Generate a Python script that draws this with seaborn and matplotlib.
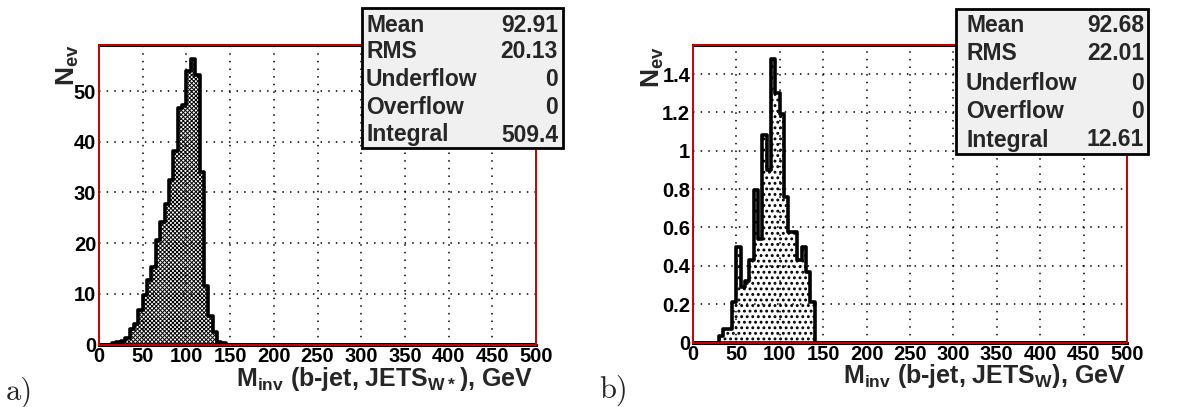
import matplotlib
matplotlib.use("Agg")
import matplotlib.pyplot as plt
from matplotlib.patches import Rectangle
from matplotlib.ticker import MultipleLocator, FuncFormatter
import seaborn as sns

# %%
# histogram contents, 5 GeV bins (bin centres in GeV)
mass_a = [17.5, 22.5, 27.5, 32.5, 37.5, 42.5, 47.5, 52.5, 57.5, 62.5, 67.5, 72.5, 77.5,
          82.5, 87.5, 92.5, 97.5, 102.5, 107.5, 112.5, 117.5, 122.5, 127.5, 132.5, 137.5, 142.5]
counts_a = [0.2, 0.4, 0.6, 1.2, 3.0, 4.1, 6.9, 9.7, 12.7, 15.3, 20.6, 24.1, 27.7,
            32.4, 38.2, 46.7, 47.2, 53.9, 56.3, 53.2, 34.0, 11.5, 5.6, 2.5, 0.5, 0.2]

mass_b = [32.5, 37.5, 42.5, 47.5, 52.5, 57.5, 62.5, 67.5, 72.5, 77.5, 82.5,
          87.5, 92.5, 97.5, 102.5, 107.5, 112.5, 117.5, 122.5, 127.5, 132.5, 137.5]
counts_b = [0.033, 0.07, 0.07, 0.21, 0.50, 0.29, 0.32, 0.43, 0.795, 0.54, 1.08,
            0.90, 1.48, 1.30, 1.19, 0.757, 0.577, 0.577, 0.43, 0.50, 0.37, 0.21]

bin_edges = list(range(0, 505, 5))

stat_names = ["Mean", "RMS", "Underflow", "Overflow", "Integral"]
stats_a = ["92.91", "20.13", "0", "0", "509.4"]
stats_b = ["92.68", "22.01", "0", "0", "12.61"]

# %%
sns.set_theme(style="white")
plt.rcParams["font.family"] = ["Liberation Sans", "DejaVu Sans"]
plt.rcParams["font.weight"] = "bold"
plt.rcParams["mathtext.fontset"] = "custom"
plt.rcParams["mathtext.bf"] = "Liberation Sans:bold"
plt.rcParams["mathtext.rm"] = "Liberation Sans:bold"
plt.rcParams["hatch.linewidth"] = 0.7

W, H = 1177, 407
fig = plt.figure(figsize=(W / 100, H / 100), dpi=100)


def fx(x):
    return x / W


def fy(y):
    return 1 - y / H


def panel(box, mass, counts, ymax, ymajor, yminor, hatch, hatch_lw):
    x0, x1, y0, y1 = box
    ax = fig.add_axes([fx(x0), fy(y1), fx(x1 - x0), (y1 - y0) / H])
    sns.histplot(x=mass, weights=counts, bins=bin_edges, element="step", fill=True,
                 color="black", linewidth=2.6, alpha=1, ax=ax)
    poly = ax.collections[0]
    poly.set_facecolor("white")
    poly.set_edgecolor("black")
    poly.set_hatch(hatch)
    poly.set_hatch_linewidth(hatch_lw)
    ax.set_xlim(0, 500)
    ax.set_ylim(0, ymax)
    ax.set_xlabel("")
    ax.set_ylabel("")
    ax.xaxis.set_major_locator(MultipleLocator(50))
    ax.xaxis.set_minor_locator(MultipleLocator(10))
    ax.yaxis.set_major_locator(MultipleLocator(ymajor))
    ax.yaxis.set_minor_locator(MultipleLocator(yminor))
    ax.yaxis.set_major_formatter(FuncFormatter(lambda v, p: "%g" % round(v, 3)))
    ax.tick_params(which="both", direction="in", colors="black", top=False, right=False,
                   labelsize=14.5, width=1.2)
    ax.tick_params(which="major", length=8, pad=2)
    ax.tick_params(which="minor", length=4)
    for lab in ax.get_xticklabels() + ax.get_yticklabels():
        lab.set_fontweight("bold")
    ax.grid(True, which="major", color="black", linestyle=(0, (1, 4)), linewidth=1.1)
    ax.set_axisbelow(False)
    for s in ax.spines.values():
        s.set_color("black")
        s.set_linewidth(1.2)
    ax.spines["top"].set_linewidth(2.2)
    ax.spines["bottom"].set_linewidth(2.2)
    ax.plot([0, 1, 1, 0, 0], [0, 0, 1, 1, 0], transform=ax.transAxes, color="#dd0000",
            lw=1.3, clip_on=False, zorder=5)
    return ax


def stats_box(x0, x1, y0, y1, rows, values, xl, xr):
    fig.add_artist(Rectangle((fx(x0), fy(y1)), fx(x1 - x0), (y1 - y0) / H,
                             transform=fig.transFigure, facecolor="#f0f0f0",
                             edgecolor="black", lw=2, zorder=10))
    for name, val, yb in zip(stat_names, values, rows):
        fig.text(fx(xl), fy(yb), name, ha="left", va="baseline", fontsize=16.5,
                 fontweight="bold", zorder=11)
        fig.text(fx(xr), fy(yb), val, ha="right", va="baseline", fontsize=16.5,
                 fontweight="bold", zorder=11)


# %%
ax_a = panel((99, 536, 45, 344.5), mass_a, counts_a, 59.1, 10, 2, "xxxxxxxx", 0.7)
ax_b = panel((693, 1127, 45, 342.5), mass_b, counts_b, 1.552, 0.2, 0.05, "...", 1.3)

stats_box(362, 563, 8, 148, [31.7, 58.5, 86.5, 114, 141.5], stats_a, 366, 558)
stats_box(956, 1148, 9, 154, [31.7, 60, 89.5, 118, 146.5], stats_b, 966, 1144)

fig.text(fx(68), fy(44), r"$\mathbf{N_{ev}}$", rotation=90, ha="center", va="top", fontsize=19)
fig.text(fx(653), fy(46), r"$\mathbf{N_{ev}}$", rotation=90, ha="center", va="top", fontsize=19)

fig.text(fx(533), fy(386), r"M$_{\mathbf{inv}}$ (b-jet, JETS$_{\mathbf{W*}}$), GeV",
         ha="right", va="baseline", fontsize=18, fontweight="bold")
fig.text(fx(1126), fy(383), r"M$_{\mathbf{inv}}$ (b-jet, JETS$_{\mathbf{W}}$), GeV",
         ha="right", va="baseline", fontsize=18, fontweight="bold")

fig.text(fx(6), fy(400), "a)", family="cmr10", fontsize=22, ha="left", va="baseline")
fig.text(fx(599), fy(398), "b)", family="cmr10", fontsize=22, ha="left", va="baseline")

fig.savefig("out.png", dpi=100)
